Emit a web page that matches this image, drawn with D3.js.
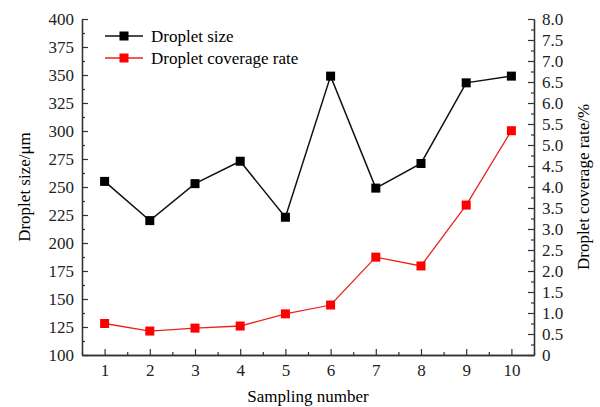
<html>
<head>
    <script src="https://d3js.org/d3.v7.min.js"></script>
    <style>
        body { margin: 0; background: #fff; }
        text { font-family: "Liberation Serif", "Times New Roman", serif; }
    </style>
</head>
<body>
    <div id="vis"></div>
</body>

<script>

    // data
    var samples = [1, 2, 3, 4, 5, 6, 7, 8, 9, 10];
    var dropletSize = [255, 220, 253, 273, 223, 349, 249, 271, 343, 349];
    var coverageRate = [0.75, 0.57, 0.64, 0.69, 0.98, 1.19, 2.33, 2.12, 3.57, 5.34];
    var leftTicks = [100, 125, 150, 175, 200, 225, 250, 275, 300, 325, 350, 375, 400];
    var rightTicks = [0, 0.5, 1, 1.5, 2, 2.5, 3, 3.5, 4, 4.5, 5, 5.5, 6, 6.5, 7, 7.5, 8];
    var seriesNames = ["Droplet size", "Droplet coverage rate"];

    var margin = { top: 19, right: 66, bottom: 52, left: 82 },
        width = 600 - margin.left - margin.right,
        height = 407 - margin.top - margin.bottom;

    var svg = d3.select("#vis")
        .append("svg")
        .attr("width", 600)
        .attr("height", 407)
        .append("g")
        .attr("transform", "translate(" + margin.left + "," + margin.top + ")");

    var x = d3.scaleLinear().domain([0.5, 10.5]).range([0, width]);
    var yL = d3.scaleLinear().domain([100, 400]).range([height, 0]);
    var yR = d3.scaleLinear().domain([0, 8]).range([height, 0]);

    // minor ticks first
    var minorX = d3.range(0.5, 10.6, 1);
    var minorL = d3.range(112.5, 400, 25);
    var minorR = d3.range(0.25, 8, 0.5);

    svg.append("g")
        .attr("transform", "translate(0," + height + ")")
        .call(d3.axisBottom(x).tickValues(minorX).tickFormat("").tickSizeInner(-3).tickSizeOuter(0));
    svg.append("g")
        .call(d3.axisLeft(yL).tickValues(minorL).tickFormat("").tickSizeInner(-3).tickSizeOuter(0));
    svg.append("g")
        .attr("transform", "translate(" + width + ",0)")
        .call(d3.axisRight(yR).tickValues(minorR).tickFormat("").tickSizeInner(-3).tickSizeOuter(0));

    // major axes
    var xAxis = svg.append("g")
        .attr("transform", "translate(0," + height + ")")
        .call(d3.axisBottom(x).tickValues(samples).tickSizeInner(-6).tickSizeOuter(0).tickPadding(9));
    var lAxis = svg.append("g")
        .call(d3.axisLeft(yL).tickValues(leftTicks).tickSizeInner(-6).tickSizeOuter(0).tickPadding(8));
    var rAxis = svg.append("g")
        .attr("transform", "translate(" + width + ",0)")
        .call(d3.axisRight(yR).tickValues(rightTicks)
            .tickFormat(function (d) { return d === 0 ? "0" : d.toFixed(1); })
            .tickSizeInner(-6).tickSizeOuter(0).tickPadding(8));

    svg.selectAll(".domain").attr("stroke", "#333").attr("stroke-width", 1.3);
    svg.selectAll(".tick line").attr("stroke", "#333").attr("stroke-width", 1.2);
    svg.selectAll(".tick text")
        .style("font-family", "Liberation Serif")
        .style("font-size", "17px")
        .attr("fill", "#222");

    // axis titles
    svg.append("text")
        .attr("text-anchor", "middle")
        .attr("x", width / 2)
        .attr("y", height + 47)
        .style("font-size", "17px")
        .text("Sampling number");

    svg.append("text")
        .attr("text-anchor", "middle")
        .attr("transform", "rotate(-90)")
        .attr("x", -height / 2)
        .attr("y", -margin.left + 30)
        .style("font-size", "17px")
        .text("Droplet size/\u03bcm");

    svg.append("text")
        .attr("text-anchor", "middle")
        .attr("transform", "rotate(-90)")
        .attr("x", -height / 2)
        .attr("y", width + 55)
        .style("font-size", "17px")
        .text("Droplet coverage rate/%");

    // lines
    var lineL = d3.line()
        .x(function (d, i) { return x(samples[i]); })
        .y(function (d) { return yL(d); });
    var lineR = d3.line()
        .x(function (d, i) { return x(samples[i]); })
        .y(function (d) { return yR(d); });

    svg.append("path")
        .datum(coverageRate)
        .attr("fill", "none")
        .attr("stroke", "#e8231f")
        .attr("stroke-width", 1.3)
        .attr("d", lineR);

    svg.append("path")
        .datum(dropletSize)
        .attr("fill", "none")
        .attr("stroke", "#111")
        .attr("stroke-width", 1.5)
        .attr("d", lineL);

    var ms = 9;
    svg.append("g")
        .selectAll("rect")
        .data(coverageRate)
        .enter()
        .append("rect")
        .attr("x", function (d, i) { return x(samples[i]) - ms / 2; })
        .attr("y", function (d) { return yR(d) - ms / 2; })
        .attr("width", ms)
        .attr("height", ms)
        .attr("fill", "#f00");

    svg.append("g")
        .selectAll("rect")
        .data(dropletSize)
        .enter()
        .append("rect")
        .attr("x", function (d, i) { return x(samples[i]) - ms / 2; })
        .attr("y", function (d) { return yL(d) - ms / 2; })
        .attr("width", ms)
        .attr("height", ms)
        .attr("fill", "#000");

    // legend
    var legendColors = ["#111", "#e8231f"];
    var markColors = ["#000", "#f00"];
    var legend = svg.append("g").attr("transform", "translate(23,17)");
    seriesNames.forEach(function (name, i) {
        var g = legend.append("g").attr("transform", "translate(0," + (i * 22) + ")");
        g.append("line")
            .attr("x1", 0).attr("x2", 38)
            .attr("stroke", legendColors[i])
            .attr("stroke-width", 1.5);
        g.append("rect")
            .attr("x", 19 - ms / 2).attr("y", -ms / 2)
            .attr("width", ms).attr("height", ms)
            .attr("fill", markColors[i]);
        g.append("text")
            .attr("x", 46)
            .attr("y", 6)
            .style("font-size", "17px")
            .text(name);
    });

</script>

</html>
